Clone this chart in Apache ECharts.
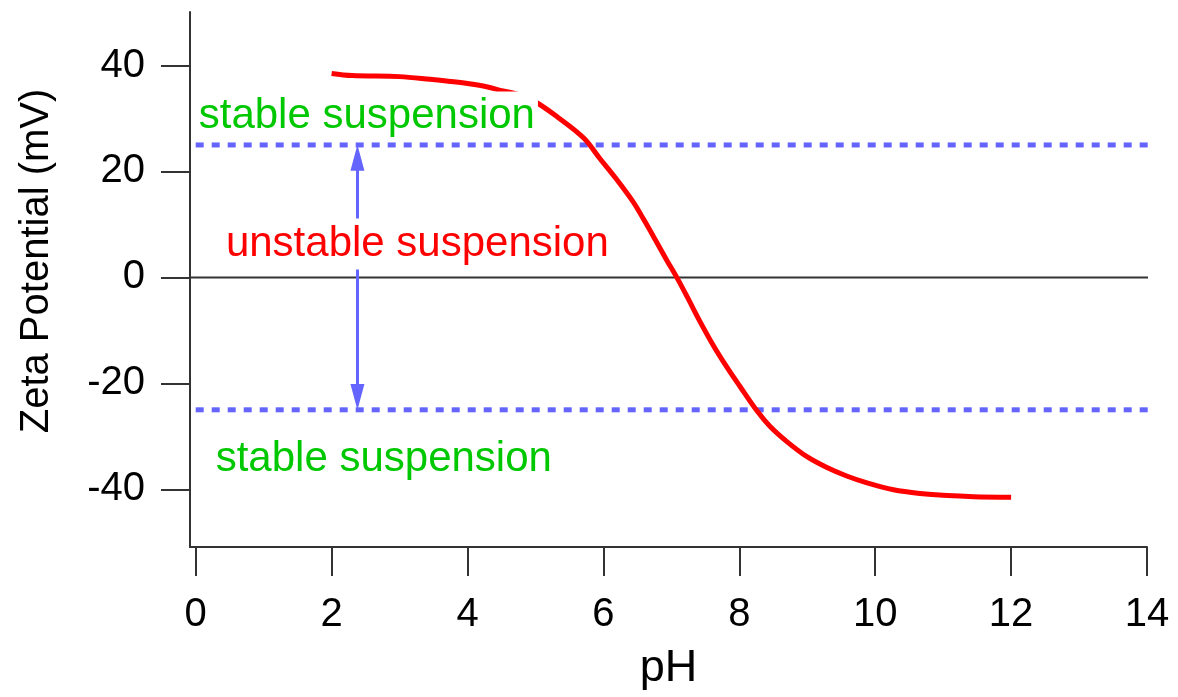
<!DOCTYPE html>
<html>
<head>
<meta charset="utf-8">
<script src="https://cdn.jsdelivr.net/npm/echarts@6/dist/echarts.min.js"></script>
<style>html,body{margin:0;padding:0;background:#fff;}#chart{width:1178px;height:697px;}</style>
</head>
<body>
<div id="chart"></div>
<script>
// ---- data ----
const xTicks = [0, 2, 4, 6, 8, 10, 12, 14];
const yTicks = [-40, -20, 0, 20, 40];
const phValues = [2.0, 2.3, 3.0, 3.45, 3.75, 4.0, 4.28, 4.48, 4.73, 4.99, 5.31, 5.71, 5.95, 6.17, 6.44, 6.59, 6.79, 6.93, 7.08, 7.23, 7.42, 7.62, 7.82, 8.01, 8.26, 8.45, 8.70, 8.99, 9.29, 9.58, 9.88, 10.27, 10.66, 11.06, 11.45, 12.0];
const zetaValues = [38.5, 38.1, 37.9, 37.4, 37.0, 36.6, 36.0, 35.3, 34.6, 33.2, 30.4, 26.3, 22.4, 18.9, 14.2, 11.0, 6.5, 3.3, 0.0, -3.6, -8.3, -12.9, -17.0, -20.6, -25.2, -28.1, -31.0, -33.8, -35.9, -37.5, -38.8, -40.1, -40.8, -41.2, -41.4, -41.5];
const stableLimits = [25, -25];
const limitLineX = [0, 14.45];
const zeroLineX = [-0.084, 14.05];
const arrowX = 2.38;
const annotationTexts = ['stable suspension', 'unstable suspension', 'stable suspension'];
const annotationX = [0.0, 0.40, 0.25];
const annotationY = [30.45, 6.3, -34.3];
const annotationColors = ['#00c800', '#ff0000', '#00c800'];

const FONT = '"Liberation Sans", Arial, sans-serif';
const BLUE = '#6464ff';
const AXIS = '#333333';
const labelPadding = [[9, 3, 0, 3], [6, 3, 5, 3], [6, 3, 5, 3]];

const chart = echarts.init(document.getElementById('chart'), null, {renderer: 'canvas'});

const series = [];
// zero line
series.push({
  type: 'line', silent: true, symbol: 'none', clip: false, z: 1,
  data: zeroLineX.map(x => [x, 0]),
  lineStyle: {color: AXIS, width: 2}
});
// stability limits (dotted)
stableLimits.forEach(v => series.push({
  type: 'line', silent: true, symbol: 'none', clip: false, z: 2,
  data: limitLineX.map(x => [x, v]),
  lineStyle: {color: BLUE, width: 5, type: [8, 8]}
}));
// double arrow via markLine
series.push({
  type: 'line', silent: true, symbol: 'none', data: [], z: 3,
  markLine: {
    silent: true, animation: false,
    symbol: ['triangle', 'triangle'], symbolSize: [14, 26],
    lineStyle: {color: BLUE, width: 3, type: 'solid', opacity: 1},
    itemStyle: {color: BLUE, opacity: 1},
    label: {show: false},
    data: [[{coord: [arrowX, stableLimits[0] - 2.4]}, {coord: [arrowX, stableLimits[1] + 2.4]}]]
  }
});
// zeta curve
series.push({
  type: 'line', silent: true, symbol: 'none', z: 5, clip: false,
  smooth: 0.35,
  data: phValues.map((x, i) => [x, zetaValues[i]]),
  lineStyle: {color: '#ff0000', width: 5}
});
// annotations
annotationTexts.forEach((t, i) => series.push({
  type: 'scatter', silent: true, symbolSize: 0, z: 20, clip: false,
  itemStyle: {opacity: 1},
  data: [[annotationX[i], annotationY[i]]],
  label: {
    show: true, position: 'right', distance: 0, opacity: 1,
    formatter: t, color: annotationColors[i],
    fontFamily: FONT, fontSize: 42, lineHeight: 40,
    backgroundColor: '#ffffff', padding: labelPadding[i]
  }
}));

chart.setOption({
  animation: false,
  backgroundColor: '#ffffff',
  grid: {left: 190, right: 31, top: 12, bottom: 150, containLabel: false},
  xAxis: {
    type: 'value', min: -0.084, max: 14,
    name: 'pH', nameLocation: 'middle', nameGap: 99,
    nameTextStyle: {fontFamily: FONT, fontSize: 45, color: '#000'},
    axisLine: {show: true, onZero: false, lineStyle: {color: AXIS, width: 2}},
    axisTick: {show: true, length: 29, customValues: xTicks, lineStyle: {color: AXIS, width: 2}},
    axisLabel: {customValues: xTicks, margin: 48, fontFamily: FONT, fontSize: 40, color: '#000'},
    splitLine: {show: false}
  },
  yAxis: {
    type: 'value', min: -50.9, max: 50.1,
    name: 'Zeta Potential (mV)', nameLocation: 'middle', nameGap: 133, nameRotate: 90,
    nameTextStyle: {fontFamily: FONT, fontSize: 40, color: '#000', padding: [0, 0, 0, 37]},
    axisLine: {show: true, onZero: false, lineStyle: {color: AXIS, width: 2}},
    axisTick: {show: true, length: 29, customValues: yTicks, lineStyle: {color: AXIS, width: 2}},
    axisLabel: {customValues: yTicks, margin: 45, fontFamily: FONT, fontSize: 40, color: '#000'},
    splitLine: {show: false}
  },
  series: series
});
</script>
</body>
</html>
